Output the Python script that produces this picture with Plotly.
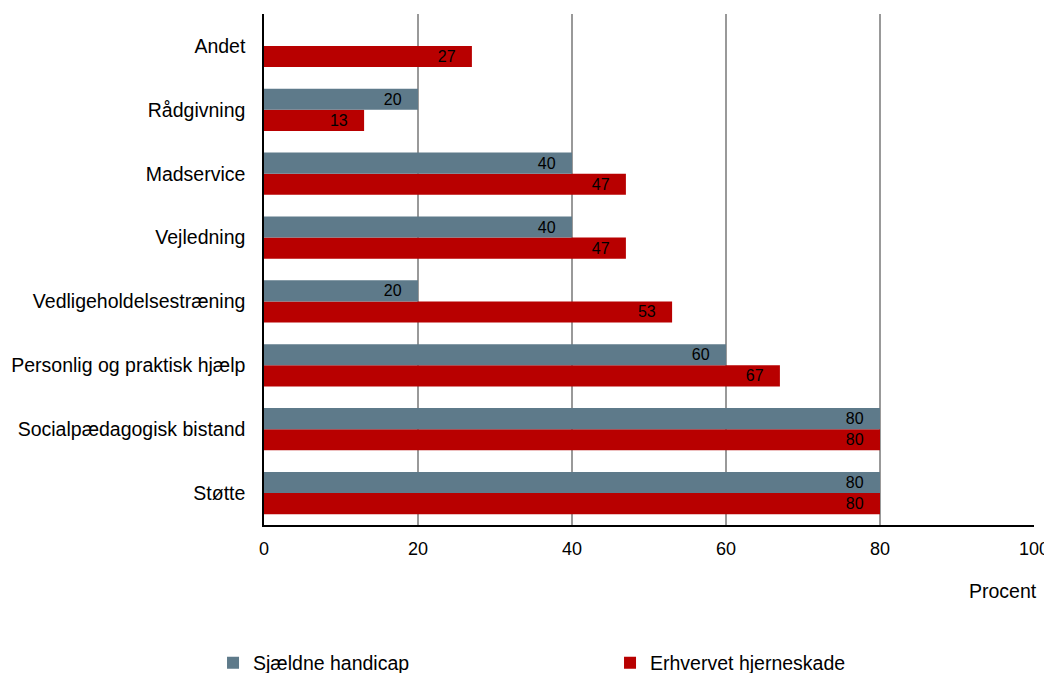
import plotly.graph_objects as go

categories = ["Støtte", "Socialpædagogisk bistand", "Personlig og praktisk hjælp",
              "Vedligeholdelsestræning", "Vejledning", "Madservice", "Rådgivning", "Andet"]
sjaeldne = [80, 80, 60, 20, 40, 40, 20, None]
erhvervet = [80, 80, 67, 53, 47, 47, 13, 27]
x_ticks = [0, 20, 40, 60, 80, 100]

GRAY = "#5E7A8A"
RED = "#B80000"
FONT = "Liberation Sans, Arial, sans-serif"
PAD = "\u00a0\u00a0\u00a0"


def labels(vals):
    return [("" if v is None else f"{v}{PAD}") for v in vals]


fig = go.Figure()
fig.add_trace(go.Bar(
    y=categories, x=erhvervet, orientation="h", name="Erhvervet hjerneskade",
    marker=dict(color=RED, line=dict(width=0)),
    text=labels(erhvervet), textposition="inside", insidetextanchor="end",
    textangle=0, constraintext="none",
    textfont=dict(color="black", size=16, family=FONT), legendrank=2,
))
fig.add_trace(go.Bar(
    y=categories, x=sjaeldne, orientation="h", name="Sjældne handicap",
    marker=dict(color=GRAY, line=dict(width=0)),
    text=labels(sjaeldne), textposition="inside",
    insidetextanchor="end", textangle=0, constraintext="none",
    textfont=dict(color="black", size=16, family=FONT), legendrank=1,
))

fig.update_layout(
    template="none",
    width=1044, height=665,
    margin=dict(l=256, r=18, t=6, b=148, autoexpand=False),
    barmode="group", bargap=0.34, bargroupgap=0,
    plot_bgcolor="white", paper_bgcolor="white",
    font=dict(family=FONT, size=19.5, color="black"),
    xaxis=dict(range=[0, 100], tickvals=x_ticks, showgrid=True, gridcolor="#999999",
               gridwidth=1.5, showline=True, linecolor="black", linewidth=1.5,
               zeroline=False, ticks="", tickfont=dict(size=18), ticklabelstandoff=7,
               automargin=False),
    yaxis=dict(showline=True, linecolor="black", linewidth=1.5, ticks="",
               tickfont=dict(size=19.5), ticklabelstandoff=13, showgrid=False,
               automargin=False),
    legend=dict(orientation="h", x=-0.0662, xanchor="left", y=-0.270, yanchor="middle",
                font=dict(size=19.5), entrywidth=352, entrywidthmode="pixels",
                traceorder="normal", bgcolor="rgba(0,0,0,0)"),
    annotations=[dict(text="Procent", x=1.007, xref="paper", y=-0.129, yref="paper",
                      xanchor="right", yanchor="middle", showarrow=False,
                      font=dict(size=19.5))],
)

fig.write_html("out.html")
